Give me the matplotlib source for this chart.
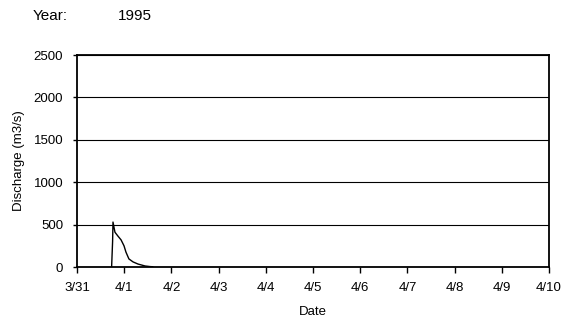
import matplotlib
matplotlib.use("Agg")
import matplotlib.pyplot as plt

plt.rcParams['font.family'] = ['Liberation Sans', 'DejaVu Sans']

# hours since 3/31 00:00
hours = [17.6, 18.1, 18.3, 19.3, 20.8, 22.4, 23.9, 24.9, 26.4, 28.5, 31.0, 34.6, 37.1, 38.5]
discharge = [0, 300, 530, 410, 365, 320, 250, 175, 95, 60, 35, 12, 5, 3]

tick_labels = ["3/31", "4/1", "4/2", "4/3", "4/4", "4/5", "4/6", "4/7", "4/8", "4/9", "4/10"]
yticks = [0, 500, 1000, 1500, 2000, 2500]

fig = plt.figure(figsize=(5.71, 3.22), dpi=100)
ax = fig.add_axes([77/571, 1-267/322, (549-77)/571, (267-55)/322])

days = [h/24 for h in hours]
ax.plot(days, discharge, color='black', lw=1.0)

ax.set_xlim(0, 10)
ax.set_ylim(0, 2500)
ax.set_xticks(range(11))
ax.set_xticklabels(tick_labels, fontsize=9.5)
ax.set_yticks(yticks)
ax.set_yticklabels([str(v) for v in yticks], fontsize=9.5)
ax.yaxis.grid(True, color='black', lw=0.8)
ax.set_axisbelow(True)
ax.tick_params(axis='x', direction='out', length=4, width=1, pad=7)
ax.tick_params(axis='y', direction='out', length=3, width=1, pad=7)
for s in ax.spines.values():
    s.set_linewidth(1.3)
ax.set_xlabel("Date", fontsize=9.5, labelpad=8.5)
ax.set_ylabel("Discharge (m3/s)", fontsize=9.5, labelpad=6)

fig.text(33/571, 1-16/322, "Year:", fontsize=11, va='center', ha='left')
fig.text(118/571, 1-16/322, "1995", fontsize=11, va='center', ha='left')

fig.savefig("out.png", dpi=100)
